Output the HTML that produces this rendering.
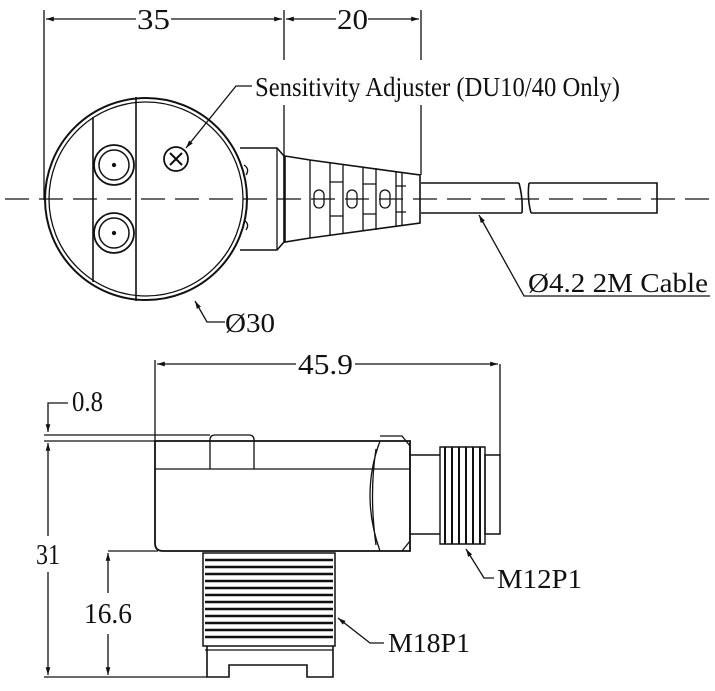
<!DOCTYPE html>
<html><head><style>html,body{margin:0;padding:0;background:#fff}svg{display:block}text{font-family:"Liberation Serif",serif;fill:#111}</style></head>
<body>
<svg width="715" height="691" viewBox="0 0 715 691" xmlns="http://www.w3.org/2000/svg">
<defs><marker id="a" viewBox="0 0 10 10" refX="10" refY="5" markerWidth="9" markerHeight="6" orient="auto-start-reverse"><path d="M0,2 L10,5 L0,8 Z" fill="#111"/></marker></defs>
<g stroke="#111" fill="none" stroke-width="1.3">
<line x1="44" y1="10" x2="44" y2="200"/>
<line x1="284" y1="10" x2="284" y2="60"/><line x1="284" y1="105" x2="284" y2="160"/>
<line x1="421" y1="10" x2="421" y2="60"/><line x1="421" y1="105" x2="421" y2="175"/>
<line x1="46" y1="19" x2="136" y2="19" marker-start="url(#a)"/>
<line x1="171" y1="19" x2="282" y2="19" marker-end="url(#a)"/>
<line x1="286" y1="19" x2="336" y2="19" marker-start="url(#a)"/>
<line x1="368" y1="19" x2="419" y2="19" marker-end="url(#a)"/>
<line x1="5" y1="199" x2="712" y2="199" stroke-dasharray="24,10" stroke-width="1.2"/>
<circle cx="146" cy="199" r="101" stroke-width="2"/>
<circle cx="146" cy="199" r="97"/>
<line x1="93" y1="117" x2="93" y2="282" stroke-width="1.6"/>
<line x1="136" y1="97" x2="136" y2="301" stroke-width="1.6"/>
<circle cx="114" cy="165" r="20" stroke-width="1.8"/><circle cx="114" cy="165" r="15" stroke-width="1.5"/><circle cx="114" cy="165" r="1.5" fill="#111"/>
<circle cx="114" cy="233" r="20" stroke-width="1.8"/><circle cx="114" cy="233" r="15" stroke-width="1.5"/><circle cx="114" cy="233" r="1.5" fill="#111"/>
<circle cx="176" cy="159" r="12" stroke-width="1.8"/>
<line x1="170" y1="153" x2="182" y2="165" stroke-width="2"/><line x1="182" y1="153" x2="170" y2="165" stroke-width="2"/>
<path d="M240,148 H277 L284,156 V242 L277,250 H240" stroke-width="1.6"/>
<line x1="277" y1="148" x2="277" y2="250"/>
<path d="M244,165 q6,4 2,10 M244,220 q6,4 2,10"/>
<path d="M285,156 L310,160 L420,175 V223 L310,238 L285,242 Z" stroke-width="1.6"/>
<path d="M310,160 V238 M330,162 V236 M343,164 V234 M363,167 V231 M376,168 V230 M396,171 V227 M402,172 V226"/>
<path d="M330,182 h13 M330,216 h13 M363,184 h13 M363,214 h13 M396,186 h10 M396,212 h10"/>
<rect x="314" y="190" width="10" height="18" rx="5"/><rect x="347" y="190" width="10" height="18" rx="5"/><rect x="380" y="190" width="10" height="18" rx="5"/>
<path d="M421,183 H519 M421,213 H522 M519,183 q4,15 3,30 M529,183 q-2,15 2,30 M529,183 H657 V213 H531" stroke-width="1.6"/>
<path d="M252,86 H236 L186,148" marker-end="url(#a)"/>
<path d="M225,322 H207 L195,301" marker-end="url(#a)"/>
<path d="M710,296 H524 L479,215" marker-end="url(#a)"/>
<line x1="155" y1="360" x2="155" y2="441"/>
<line x1="500" y1="364" x2="500" y2="455"/>
<line x1="157" y1="364" x2="296" y2="364" marker-start="url(#a)"/>
<line x1="355" y1="364" x2="498" y2="364" marker-end="url(#a)"/>
<path d="M68,403 H48 V432" marker-end="url(#a)"/>
<line x1="44" y1="435" x2="210" y2="435"/>
<line x1="44" y1="441" x2="155" y2="441"/>
<line x1="48" y1="443" x2="48" y2="536" marker-start="url(#a)"/>
<line x1="48" y1="572" x2="48" y2="675" marker-end="url(#a)"/>
<line x1="108" y1="551" x2="158" y2="551"/>
<line x1="108" y1="553" x2="108" y2="593" marker-start="url(#a)"/>
<line x1="108" y1="634" x2="108" y2="675" marker-end="url(#a)"/>
<line x1="44" y1="677" x2="207" y2="677"/>
<path d="M155,441 H410 V551 H163 Q155,551 155,543 Z" stroke-width="1.8"/>
<path d="M210,469 V440 Q210,435 215,435 H249 Q254,435 254,440 V469"/>
<line x1="155" y1="469" x2="410" y2="469"/>
<path d="M380,441 Q360,495 380,551 M376,449 Q369,495 376,545"/>
<path d="M380,436 H402 L410,446 V541 L402,551" />
<path d="M410,455 H440 M410,534 H440" stroke-width="1.5"/>
<rect x="485" y="455" width="15" height="79" stroke-width="1.5"/>
<path d="M440,447 H485 V544 H440 Z" stroke-width="1.4"/>
<path d="M445,447 V544 M452,447 V544 M459,447 V544 M466,447 V544 M473,447 V544 M480,447 V544" stroke-width="2"/>
<path d="M203,553 H335 V646 H203 Z" stroke-width="1.5"/>
<path d="M205,560 H333 M205,567 H333 M205,574 H333 M205,581 H333 M205,588 H333 M205,595 H333 M205,602 H333 M205,609 H333 M205,616 H333 M205,623 H333 M205,630 H333 M205,637 H333" stroke-width="2.4"/>
<path d="M207,646 V677 H229 V665 H307 V677 H333 V646" stroke-width="1.6"/>
<path d="M205,650 H333"/>
<path d="M494,578 H484 L466,549" marker-end="url(#a)"/>
<path d="M384,643 H370 L338,618" marker-end="url(#a)"/>
</g>
<g font-size="29">
<text x="137" y="29" textLength="33" lengthAdjust="spacingAndGlyphs">35</text>
<text x="337" y="29" textLength="31" lengthAdjust="spacingAndGlyphs">20</text>
<text x="298" y="374" textLength="55" lengthAdjust="spacingAndGlyphs">45.9</text>
<text x="72" y="411" textLength="31" lengthAdjust="spacingAndGlyphs">0.8</text>
<text x="36" y="564" textLength="24" lengthAdjust="spacingAndGlyphs">31</text>
<text x="84" y="623" textLength="48" lengthAdjust="spacingAndGlyphs">16.6</text>
</g>
<g font-size="27">
<text x="255" y="96" textLength="365" lengthAdjust="spacingAndGlyphs">Sensitivity Adjuster (DU10/40 Only)</text>
<text x="225" y="332" textLength="50" lengthAdjust="spacingAndGlyphs">Ø30</text>
<text x="528" y="292" textLength="180" lengthAdjust="spacingAndGlyphs">Ø4.2 2M Cable</text>
<text x="497" y="588" textLength="85" lengthAdjust="spacingAndGlyphs">M12P1</text>
<text x="388" y="652" textLength="82" lengthAdjust="spacingAndGlyphs">M18P1</text>
</g>
</svg>
</body></html>
